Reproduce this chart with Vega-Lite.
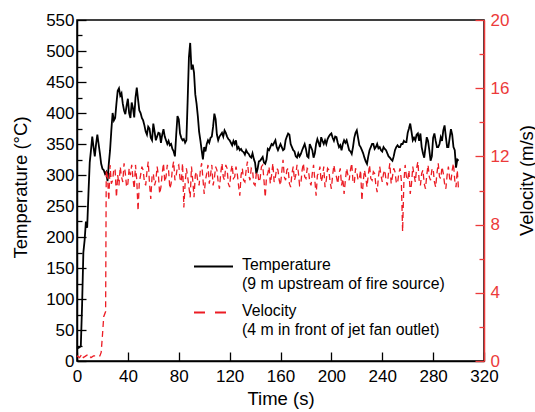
{
"$schema":"https://vega.github.io/schema/vega-lite/v6.json",
"autosize":{"type":"none"},
"width":407,"height":341,
"padding":{"left":77,"top":20,"right":51,"bottom":51},
"config":{
 "font":"Liberation Sans",
 "view":{"stroke":"#000","strokeWidth":1.5},
 "axis":{"labelFont":"Liberation Sans","titleFont":"Liberation Sans","labelFontSize":17,"titleFontSize":18.5,"titleFontWeight":"normal","grid":false,"domainColor":"#000","domainWidth":1.5,"tickColor":"#000","tickWidth":1.3,"labelColor":"#000","titleColor":"#000","labelOverlap":false,"labelFlush":false}
},
"datasets":{
"temp":[{"t":0,"T":20},{"t":1,"T":21},{"t":2,"T":22},{"t":3,"T":24},{"t":4,"T":90},{"t":5,"T":175},{"t":6,"T":195},{"t":7,"T":225},{"t":8,"T":215},{"t":9,"T":270},{"t":10,"T":320},{"t":11,"T":340},{"t":12,"T":362},{"t":13,"T":345},{"t":14,"T":330},{"t":15,"T":350},{"t":16,"T":365},{"t":17,"T":350},{"t":18,"T":335},{"t":19,"T":318},{"t":20,"T":310},{"t":21,"T":308},{"t":22,"T":302},{"t":23,"T":305},{"t":24,"T":290},{"t":25,"T":318},{"t":26,"T":340},{"t":27,"T":372},{"t":28,"T":400},{"t":29,"T":388},{"t":30,"T":392},{"t":31,"T":415},{"t":32,"T":436},{"t":33,"T":440},{"t":34,"T":428},{"t":35,"T":432},{"t":36,"T":415},{"t":37,"T":404},{"t":38,"T":398},{"t":39,"T":412},{"t":40,"T":423},{"t":41,"T":400},{"t":42,"T":392},{"t":43,"T":417},{"t":44,"T":408},{"t":45,"T":393},{"t":46,"T":425},{"t":47,"T":441},{"t":48,"T":422},{"t":49,"T":404},{"t":50,"T":400},{"t":51,"T":392},{"t":52,"T":388},{"t":53,"T":380},{"t":54,"T":370},{"t":55,"T":365},{"t":56,"T":378},{"t":57,"T":375},{"t":58,"T":360},{"t":59,"T":356},{"t":60,"T":383},{"t":61,"T":370},{"t":62,"T":356},{"t":63,"T":362},{"t":64,"T":368},{"t":65,"T":367},{"t":66,"T":352},{"t":67,"T":365},{"t":68,"T":374},{"t":69,"T":362},{"t":70,"T":356},{"t":71,"T":350},{"t":72,"T":355},{"t":73,"T":348},{"t":74,"T":350},{"t":75,"T":342},{"t":76,"T":338},{"t":77,"T":330},{"t":78,"T":365},{"t":79,"T":395},{"t":80,"T":390},{"t":81,"T":367},{"t":82,"T":360},{"t":83,"T":356},{"t":84,"T":358},{"t":85,"T":352},{"t":86,"T":356},{"t":87,"T":420},{"t":88,"T":490},{"t":89,"T":513},{"t":90,"T":470},{"t":91,"T":478},{"t":92,"T":465},{"t":93,"T":430},{"t":94,"T":415},{"t":95,"T":395},{"t":96,"T":370},{"t":97,"T":356},{"t":98,"T":340},{"t":99,"T":325},{"t":100,"T":345},{"t":101,"T":338},{"t":102,"T":350},{"t":103,"T":356},{"t":104,"T":352},{"t":105,"T":360},{"t":106,"T":362},{"t":107,"T":378},{"t":108,"T":399},{"t":109,"T":390},{"t":110,"T":365},{"t":111,"T":356},{"t":112,"T":362},{"t":113,"T":365},{"t":114,"T":368},{"t":115,"T":362},{"t":116,"T":372},{"t":117,"T":368},{"t":118,"T":362},{"t":119,"T":358},{"t":120,"T":356},{"t":121,"T":352},{"t":122,"T":348},{"t":123,"T":355},{"t":124,"T":350},{"t":125,"T":356},{"t":126,"T":342},{"t":127,"T":345},{"t":128,"T":340},{"t":129,"T":342},{"t":130,"T":338},{"t":131,"T":337},{"t":132,"T":333},{"t":133,"T":340},{"t":134,"T":336},{"t":135,"T":334},{"t":136,"T":330},{"t":137,"T":328},{"t":138,"T":335},{"t":139,"T":326},{"t":140,"T":320},{"t":141,"T":302},{"t":142,"T":310},{"t":143,"T":322},{"t":144,"T":323},{"t":145,"T":326},{"t":146,"T":329},{"t":147,"T":320},{"t":148,"T":318},{"t":149,"T":325},{"t":150,"T":342},{"t":151,"T":340},{"t":152,"T":345},{"t":153,"T":350},{"t":154,"T":348},{"t":155,"T":352},{"t":156,"T":356},{"t":157,"T":345},{"t":158,"T":340},{"t":159,"T":345},{"t":160,"T":350},{"t":161,"T":345},{"t":162,"T":340},{"t":163,"T":342},{"t":164,"T":356},{"t":165,"T":362},{"t":166,"T":367},{"t":167,"T":365},{"t":168,"T":350},{"t":169,"T":345},{"t":170,"T":340},{"t":171,"T":338},{"t":172,"T":330},{"t":173,"T":328},{"t":174,"T":335},{"t":175,"T":330},{"t":176,"T":334},{"t":177,"T":340},{"t":178,"T":345},{"t":179,"T":350},{"t":180,"T":342},{"t":181,"T":330},{"t":182,"T":328},{"t":183,"T":350},{"t":184,"T":345},{"t":185,"T":340},{"t":186,"T":328},{"t":187,"T":335},{"t":188,"T":350},{"t":189,"T":358},{"t":190,"T":352},{"t":191,"T":345},{"t":192,"T":361},{"t":193,"T":355},{"t":194,"T":350},{"t":195,"T":356},{"t":196,"T":350},{"t":197,"T":358},{"t":198,"T":362},{"t":199,"T":365},{"t":200,"T":367},{"t":201,"T":360},{"t":202,"T":355},{"t":203,"T":362},{"t":204,"T":361},{"t":205,"T":352},{"t":206,"T":345},{"t":207,"T":348},{"t":208,"T":340},{"t":209,"T":350},{"t":210,"T":356},{"t":211,"T":352},{"t":212,"T":356},{"t":213,"T":348},{"t":214,"T":340},{"t":215,"T":338},{"t":216,"T":334},{"t":217,"T":345},{"t":218,"T":360},{"t":219,"T":368},{"t":220,"T":372},{"t":221,"T":360},{"t":222,"T":348},{"t":223,"T":345},{"t":224,"T":340},{"t":225,"T":335},{"t":226,"T":328},{"t":227,"T":322},{"t":228,"T":318},{"t":229,"T":330},{"t":230,"T":340},{"t":231,"T":345},{"t":232,"T":350},{"t":233,"T":350},{"t":234,"T":342},{"t":235,"T":345},{"t":236,"T":350},{"t":237,"T":343},{"t":238,"T":345},{"t":239,"T":340},{"t":240,"T":338},{"t":241,"T":345},{"t":242,"T":342},{"t":243,"T":340},{"t":244,"T":335},{"t":245,"T":330},{"t":246,"T":328},{"t":247,"T":325},{"t":248,"T":323},{"t":249,"T":330},{"t":250,"T":340},{"t":251,"T":345},{"t":252,"T":348},{"t":253,"T":345},{"t":254,"T":345},{"t":255,"T":350},{"t":256,"T":350},{"t":257,"T":355},{"t":258,"T":353},{"t":259,"T":353},{"t":260,"T":368},{"t":261,"T":375},{"t":262,"T":383},{"t":263,"T":370},{"t":264,"T":356},{"t":265,"T":360},{"t":266,"T":356},{"t":267,"T":365},{"t":268,"T":367},{"t":269,"T":355},{"t":270,"T":367},{"t":271,"T":345},{"t":272,"T":335},{"t":273,"T":328},{"t":274,"T":345},{"t":275,"T":361},{"t":276,"T":355},{"t":277,"T":340},{"t":278,"T":323},{"t":279,"T":330},{"t":280,"T":360},{"t":281,"T":367},{"t":282,"T":355},{"t":283,"T":345},{"t":284,"T":345},{"t":285,"T":350},{"t":286,"T":361},{"t":287,"T":355},{"t":288,"T":372},{"t":289,"T":380},{"t":290,"T":362},{"t":291,"T":345},{"t":292,"T":345},{"t":293,"T":360},{"t":294,"T":374},{"t":295,"T":365},{"t":296,"T":345},{"t":297,"T":340},{"t":298,"T":312},{"t":299,"T":325},{"t":300,"T":323}],
"vel":[{"t":0,"V":0.3},{"t":2,"V":0.2},{"t":4,"V":0.4},{"t":5,"V":0.2},{"t":7,"V":0.3},{"t":9,"V":0.4},{"t":11,"V":0.2},{"t":13,"V":0.3},{"t":15,"V":0.3},{"t":17,"V":0.3},{"t":18,"V":0.3},{"t":19,"V":0.5},{"t":20,"V":1.5},{"t":21,"V":2.6},{"t":22.5,"V":2.9},{"t":23,"V":11.2},{"t":24,"V":10.8},{"t":25,"V":9.4},{"t":26,"V":11.5},{"t":27,"V":10.4},{"t":28,"V":10.6},{"t":29,"V":11.3},
{"t":30,"V":11.2},{"t":31,"V":9.6},{"t":32,"V":10.9},{"t":33,"V":10.3},{"t":34,"V":11.4},{"t":35,"V":10.8},{"t":36,"V":10.5},{"t":37,"V":11.6},{"t":38,"V":11.0},{"t":39,"V":10.2},
{"t":40,"V":10.4},{"t":41,"V":11.3},{"t":42,"V":10.9},{"t":43,"V":11.5},{"t":44,"V":10.7},{"t":45,"V":10.1},{"t":46,"V":11.5},{"t":47,"V":10.6},{"t":48,"V":8.8},{"t":49,"V":10.5},
{"t":50,"V":10.9},{"t":51,"V":11.4},{"t":52,"V":11.2},{"t":53,"V":10.5},{"t":54,"V":10.3},{"t":55,"V":11.1},{"t":56,"V":11.7},{"t":57,"V":10.4},{"t":58,"V":9.5},{"t":59,"V":10.8},
{"t":60,"V":11.0},{"t":61,"V":10.3},{"t":62,"V":10.6},{"t":63,"V":11.4},{"t":64,"V":10.9},{"t":65,"V":9.8},{"t":66,"V":10.2},{"t":67,"V":11.0},{"t":68,"V":11.6},{"t":69,"V":10.5},
{"t":70,"V":10.8},{"t":71,"V":11.5},{"t":72,"V":11.2},{"t":73,"V":10.1},{"t":74,"V":10.4},{"t":75,"V":11.3},{"t":76,"V":11.7},{"t":77,"V":10.6},{"t":78,"V":10.9},{"t":79,"V":11.4},
{"t":80,"V":11.5},{"t":81,"V":10.7},{"t":82,"V":10.5},{"t":83,"V":11.6},{"t":84,"V":9.0},{"t":85,"V":10.4},{"t":86,"V":11.3},{"t":87,"V":10.8},{"t":88,"V":10.2},{"t":89,"V":9.6},
{"t":90,"V":11.4},{"t":91,"V":10.6},{"t":92,"V":9.6},{"t":93,"V":10.9},{"t":94,"V":11.1},{"t":95,"V":10.5},{"t":96,"V":10.3},{"t":97,"V":11.2},{"t":98,"V":11.6},{"t":99,"V":10.7},
{"t":100,"V":9.8},{"t":101,"V":10.6},{"t":102,"V":11.0},{"t":103,"V":11.5},{"t":104,"V":10.4},{"t":105,"V":10.9},{"t":106,"V":11.5},{"t":107,"V":10.3},{"t":108,"V":10.7},{"t":109,"V":11.4},
{"t":110,"V":11.2},{"t":111,"V":10.5},{"t":112,"V":10.1},{"t":113,"V":11.0},{"t":114,"V":11.6},{"t":115,"V":10.8},{"t":116,"V":10.6},{"t":117,"V":11.5},{"t":118,"V":11.3},{"t":119,"V":10.4},
{"t":120,"V":10.2},{"t":121,"V":11.1},{"t":122,"V":11.5},{"t":123,"V":10.7},{"t":124,"V":10.8},{"t":125,"V":11.4},{"t":126,"V":11.0},{"t":127,"V":10.3},{"t":128,"V":9.7},{"t":129,"V":10.9},
{"t":130,"V":11.3},{"t":131,"V":10.6},{"t":132,"V":10.5},{"t":133,"V":11.2},{"t":134,"V":11.7},{"t":135,"V":10.9},{"t":136,"V":10.6},{"t":137,"V":11.3},{"t":138,"V":11.2},{"t":139,"V":10.4},
{"t":140,"V":10.3},{"t":141,"V":11.0},{"t":142,"V":11.1},{"t":143,"V":10.5},{"t":144,"V":10.7},{"t":145,"V":11.4},{"t":146,"V":11.5},{"t":147,"V":10.6},{"t":148,"V":9.6},{"t":149,"V":10.8},
{"t":150,"V":11.0},{"t":151,"V":11.4},{"t":152,"V":10.4},{"t":153,"V":10.9},{"t":154,"V":11.6},{"t":155,"V":10.5},{"t":156,"V":10.8},{"t":157,"V":11.3},{"t":158,"V":11.2},{"t":159,"V":10.6},
{"t":160,"V":10.3},{"t":161,"V":11.1},{"t":162,"V":11.8},{"t":163,"V":10.8},{"t":164,"V":10.6},{"t":165,"V":11.2},{"t":166,"V":11.3},{"t":167,"V":10.4},{"t":168,"V":10.2},{"t":169,"V":11.0},
{"t":170,"V":11.4},{"t":171,"V":10.6},{"t":172,"V":10.9},{"t":173,"V":11.5},{"t":174,"V":11.1},{"t":175,"V":10.3},{"t":176,"V":10.4},{"t":177,"V":11.2},{"t":178,"V":11.6},{"t":179,"V":10.8},
{"t":180,"V":10.7},{"t":181,"V":11.3},{"t":182,"V":11.2},{"t":183,"V":10.5},{"t":184,"V":10.3},{"t":185,"V":11.0},{"t":186,"V":11.5},{"t":187,"V":10.6},{"t":188,"V":9.7},{"t":189,"V":10.9},
{"t":190,"V":11.0},{"t":191,"V":11.4},{"t":192,"V":10.5},{"t":193,"V":10.8},{"t":194,"V":11.4},{"t":195,"V":10.2},{"t":196,"V":10.6},{"t":197,"V":11.3},{"t":198,"V":11.2},{"t":199,"V":10.5},
{"t":200,"V":10.1},{"t":201,"V":10.9},{"t":202,"V":11.5},{"t":203,"V":11.0},{"t":204,"V":10.8},{"t":205,"V":10.4},{"t":206,"V":11.0},{"t":207,"V":11.3},{"t":208,"V":10.3},{"t":209,"V":10.7},
{"t":210,"V":9.8},{"t":211,"V":10.6},{"t":212,"V":11.3},{"t":213,"V":10.9},{"t":214,"V":10.6},{"t":215,"V":11.2},{"t":216,"V":11.6},{"t":217,"V":10.5},{"t":218,"V":10.4},{"t":219,"V":11.3},
{"t":220,"V":11.1},{"t":221,"V":10.6},{"t":222,"V":10.7},{"t":223,"V":11.2},{"t":224,"V":9.4},{"t":225,"V":10.5},{"t":226,"V":11.2},{"t":227,"V":10.8},{"t":228,"V":10.2},{"t":229,"V":10.9},
{"t":230,"V":11.5},{"t":231,"V":10.7},{"t":232,"V":10.6},{"t":233,"V":11.1},{"t":234,"V":11.0},{"t":235,"V":10.3},{"t":236,"V":9.9},{"t":237,"V":10.8},{"t":238,"V":11.4},{"t":239,"V":10.9},
{"t":240,"V":10.5},{"t":241,"V":11.0},{"t":242,"V":11.2},{"t":243,"V":10.6},{"t":244,"V":10.3},{"t":245,"V":11.1},{"t":246,"V":11.6},{"t":247,"V":10.4},{"t":248,"V":10.8},{"t":249,"V":11.3},
{"t":250,"V":11.1},{"t":251,"V":10.5},{"t":252,"V":10.4},{"t":253,"V":11.0},{"t":254,"V":11.3},{"t":255,"V":10.6},{"t":256,"V":7.6},{"t":257,"V":10.5},{"t":258,"V":11.5},{"t":259,"V":10.8},
{"t":260,"V":10.6},{"t":261,"V":11.2},{"t":262,"V":9.8},{"t":263,"V":10.4},{"t":264,"V":11.4},{"t":265,"V":10.9},{"t":266,"V":10.5},{"t":267,"V":11.3},{"t":268,"V":11.7},{"t":269,"V":10.6},
{"t":270,"V":10.3},{"t":271,"V":11.0},{"t":272,"V":11.2},{"t":273,"V":10.4},{"t":274,"V":10.1},{"t":275,"V":10.9},{"t":276,"V":11.5},{"t":277,"V":10.8},{"t":278,"V":10.6},{"t":279,"V":11.2},
{"t":280,"V":11.3},{"t":281,"V":10.5},{"t":282,"V":10.2},{"t":283,"V":11.0},{"t":284,"V":11.6},{"t":285,"V":10.8},{"t":286,"V":10.7},{"t":287,"V":11.4},{"t":288,"V":11.0},{"t":289,"V":10.4},
{"t":290,"V":10.1},{"t":291,"V":10.9},{"t":292,"V":11.4},{"t":293,"V":10.7},{"t":294,"V":10.5},{"t":295,"V":11.2},{"t":296,"V":11.6},{"t":297,"V":10.6},{"t":298,"V":10.2},{"t":299,"V":11.2},{"t":300,"V":10.0}]
},
"layer":[
 {"data":{"name":"temp"},
  "mark":{"type":"line","strokeWidth":1.8},
  "encoding":{
   "x":{"field":"t","type":"quantitative","scale":{"domain":[0,320],"nice":false},
        "axis":{"title":"Time (s)","values":[0,20,40,60,80,100,120,140,160,180,200,220,240,260,280,300,320],
                "labelExpr":"datum.value % 40 === 0 ? datum.label : ''",
                "tickSize":{"condition":{"test":"datum.value % 40 === 0","value":-9},"value":-5},
                "labelPadding":16,"titleX":203.5,"titleY":37,"titleBaseline":"middle","titleAlign":"center"}},
   "y":{"field":"T","type":"quantitative","scale":{"domain":[0,550],"nice":false},
        "axis":{"title":"Temperature (°C)","values":[0,25,50,75,100,125,150,175,200,225,250,275,300,325,350,375,400,425,450,475,500,525,550],
                "labelExpr":"datum.value % 50 === 0 ? datum.label : ''",
                "tickSize":{"condition":{"test":"datum.value % 50 === 0","value":-9},"value":-5},
                "labelPadding":12,"titleAngle":270,"titleX":-57,"titleY":167,"titleBaseline":"middle","titleAlign":"center"}},
   "color":{"datum":"Temperature","type":"nominal",
     "scale":{"domain":["Temperature","Velocity"],"range":["#000000","#ec1c24"]},
     "legend":{"orient":"none","legendX":116,"legendY":226,"title":null,"symbolType":"stroke","symbolSize":1521,"symbolStrokeWidth":1.8,
       "labelFont":"Liberation Sans","labelFontSize":15.8,"labelColor":"#000","labelOffset":8,"labelLimit":400,"rowPadding":-3,"labelBaseline":"top",
       "labelExpr":"datum.value === 'Temperature' ? ['Temperature','(9 m upstream of fire source)'] : ['Velocity','(4 m in front of jet fan outlet)']",
       "encode":{"symbols":{"update":{"strokeDash":{"signal":"datum.value === 'Velocity' ? [11,10] : [1,0]"}}},
                 "labels":{"update":{"lineHeight":{"value":19},"dy":{"value":-9}}}}}}
  }},
 {"data":{"name":"vel"},
  "mark":{"type":"line","strokeWidth":1.3,"strokeDash":[6,4]},
  "encoding":{
   "x":{"field":"t","type":"quantitative"},
   "y":{"field":"V","type":"quantitative","scale":{"domain":[0,20],"nice":false},
        "axis":{"orient":"right","title":"Velocity (m/s)","values":[0,2,4,6,8,10,12,14,16,18,20],
                "labelExpr":"datum.value % 4 === 0 ? datum.label : ''",
                "tickSize":{"condition":{"test":"datum.value % 4 === 0","value":-9},"value":-5},
                "domainColor":"#ec3a3a","tickColor":"#ec3a3a","labelColor":"#ec3a3a","titleColor":"#000",
                "labelPadding":15,"titleAngle":270,"titleX":42,"titleY":160,"titleBaseline":"middle","titleAlign":"center"}},
   "color":{"datum":"Velocity","type":"nominal"}
  }}
],
"resolve":{"scale":{"y":"independent"}}
}
